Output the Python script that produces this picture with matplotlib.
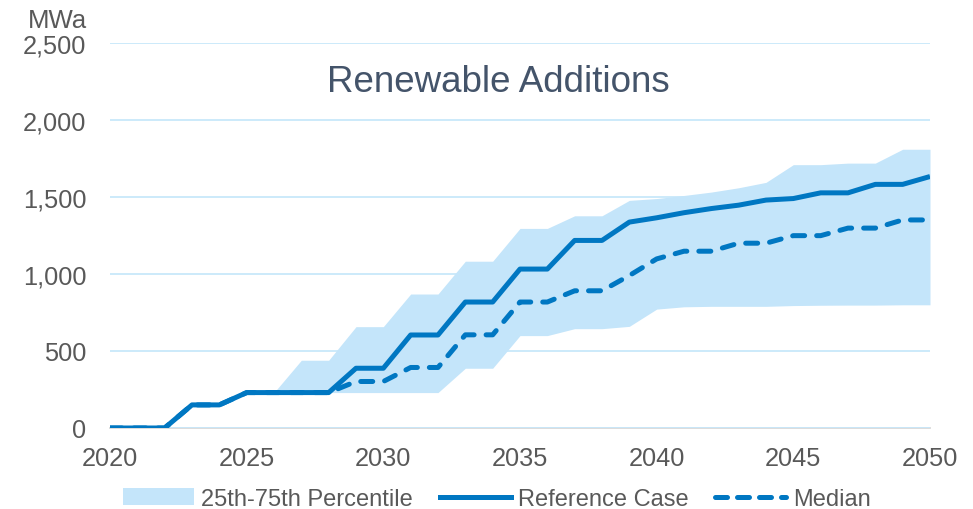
import matplotlib
matplotlib.use("Agg")
import matplotlib.pyplot as plt
from matplotlib.patches import Patch
from matplotlib.lines import Line2D
from matplotlib.ticker import FuncFormatter

years = list(range(2020, 2051))
reference = [0, 0, 0, 150, 150, 230, 230, 230, 230, 388, 388, 604, 604, 818, 818,
             1032, 1032, 1218, 1218, 1337, 1365, 1398, 1425, 1447, 1480, 1490,
             1527, 1527, 1582, 1582, 1633]
median = [0, 0, 0, 150, 150, 230, 230, 230, 230, 302, 302, 393, 393, 605, 605,
          818, 818, 891, 891, 990, 1098, 1148, 1148, 1200, 1200, 1249, 1249,
          1298, 1298, 1351, 1351]
p75 = [0, 0, 0, 150, 150, 230, 230, 440, 440, 658, 658, 870, 870, 1083, 1083,
       1296, 1296, 1378, 1378, 1478, 1490, 1510, 1532, 1560, 1595, 1710, 1710,
       1720, 1720, 1810, 1810]
p25 = [0, 0, 0, 150, 150, 230, 230, 230, 230, 230, 230, 230, 230, 388, 388,
       600, 600, 645, 645, 660, 772, 787, 790, 790, 790, 795, 797, 798, 798,
       800, 800]
yticks = [0, 500, 1000, 1500, 2000, 2500]
xticks = [2020, 2025, 2030, 2035, 2040, 2045, 2050]

plt.rcParams['font.family'] = ['Liberation Sans', 'DejaVu Sans']

fig = plt.figure(figsize=(9.73, 5.10), dpi=100)
ax = fig.add_axes([110/973, 1-429/510, 820/973, 385/510])

band_c = '#C4E5FA'
line_c = '#0077C2'
ax.fill_between(years, p25, p75, color=band_c, lw=0, zorder=2)
ax.plot(years, reference, color=line_c, lw=3.6, solid_capstyle='butt', zorder=4)
ax.plot(years, median, color=line_c, lw=3.6, dashes=(2.4, 2.4),
        dash_capstyle='round', zorder=3)

ax.set_xlim(2020, 2050)
ax.set_ylim(0, 2500)
ax.set_yticks(yticks)
ax.set_xticks(xticks)
ax.yaxis.set_major_formatter(FuncFormatter(lambda v, p: f"{int(v):,}"))
ax.grid(axis='y', color='#C8E8FA', lw=1.3, zorder=0)
ax.grid(axis='x', visible=False)
for s in ['top', 'right', 'left']:
    ax.spines[s].set_visible(False)
ax.spines['bottom'].set_color('#D9D9D9')
ax.spines['bottom'].set_linewidth(1.3)
ax.spines['bottom'].set_zorder(1)
ax.tick_params(length=0, labelsize=18.3, labelcolor='#595959')
ax.tick_params(axis='y', pad=17)
ax.tick_params(axis='x', pad=13)

fig.text(87/973, 1-28/510, 'MWa', ha='right', va='baseline', fontsize=18.5, color='#595959')
fig.text(498/973, 1-92/510, 'Renewable Additions', ha='center', va='baseline',
         fontsize=26.5, color='#44546A')

handles = [Patch(facecolor=band_c, edgecolor='none'),
           Line2D([], [], color=line_c, lw=3.6),
           Line2D([], [], color=line_c, lw=3.6, dashes=(2.4, 2.0), dash_capstyle='round')]
labels = ['25th-75th Percentile', 'Reference Case', 'Median']
fig.legend(handles, labels, loc='center', bbox_to_anchor=(497/973, 1-500/510),
           ncol=3, frameon=False, fontsize=17, labelcolor='#595959',
           handlelength=3.0, handletextpad=0.3, columnspacing=1.15, handleheight=0.7,
           borderpad=0.2)

fig.savefig('out.png', dpi=100)
